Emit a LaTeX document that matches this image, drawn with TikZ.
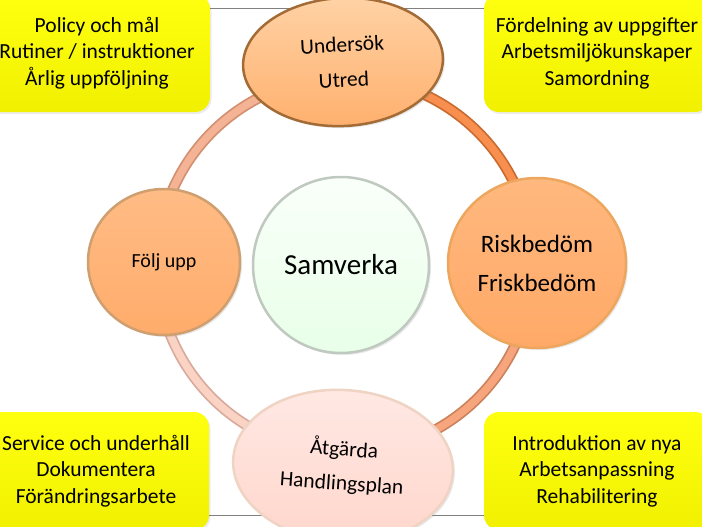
\documentclass[tikz,border=0pt]{standalone}
\usepackage{fontspec}
\setmainfont{Carlito}
\usetikzlibrary{shapes}
\usetikzlibrary{shadows}

\definecolor{boxtop}{HTML}{FFFF10}
\definecolor{boxbot}{HTML}{F0F000}
\definecolor{ringTL}{HTML}{F3B394}
\definecolor{ringTLe}{HTML}{D39070}
\definecolor{ringTR}{HTML}{F98F4E}
\definecolor{ringTRe}{HTML}{C96A30}
\definecolor{ringBR}{HTML}{F6A57D}
\definecolor{ringBRe}{HTML}{CC825C}
\definecolor{ringBL}{HTML}{FAD3C5}
\definecolor{ringBLe}{HTML}{D8AA9C}

\begin{document}
\begin{tikzpicture}[x=1pt,y=-1pt]
  \tikzset{box/.style={rounded corners=15pt, top color=boxtop, bottom color=boxbot,
      minimum width=226pt, minimum height=118pt, align=center, inner sep=0pt,
      font=\fontsize{21.5}{26.5}\selectfont,
      drop shadow={opacity=0.15, shadow xshift=1.5pt, shadow yshift=-2pt}}}
  \tikzset{blob/.style={ellipse, inner sep=0pt, align=center, line width=2.5pt,
      drop shadow={opacity=0.18, shadow xshift=2pt, shadow yshift=-2pt}}}
  \tikzset{ring/.style={line width=11pt}}
  \tikzset{ringin/.style={line width=7.5pt}}
  \tikzset{frame/.style={draw=black!50, line width=0.8pt}}

  \useasboundingbox (0,0) rectangle (702,527);

  \coordinate (c) at (345,265);

  % ring round the middle
  \draw[ring, ringTLe] ([shift={(180:188)}]c) arc[start angle=180, end angle=270, radius=188];
  \draw[ringin, ringTL] ([shift={(180:188)}]c) arc[start angle=180, end angle=270, radius=188];
  \draw[ring, ringTRe] ([shift={(270:188)}]c) arc[start angle=270, end angle=360, radius=188];
  \draw[ringin, ringTR] ([shift={(270:188)}]c) arc[start angle=270, end angle=360, radius=188];
  \draw[ring, ringBRe] ([shift={(0:188)}]c) arc[start angle=0, end angle=90, radius=188];
  \draw[ringin, ringBR] ([shift={(0:188)}]c) arc[start angle=0, end angle=90, radius=188];
  \draw[ring, ringBLe] ([shift={(90:188)}]c) arc[start angle=90, end angle=180, radius=188];
  \draw[ringin, ringBL] ([shift={(90:188)}]c) arc[start angle=90, end angle=180, radius=188];

  % corner boxes
  \node[box] (policy) at (97,53) {Policy och mål\\Rutiner / instruktioner\\Årlig uppföljning};
  \node[box] (fordel) at (597,53) {Fördelning av uppgifter\\Arbetsmiljökunskaper\\Samordning};
  \node[box] (service) at (96,471) {Service och underhåll\\Dokumentera\\Förändringsarbete};
  \node[box] (intro) at (597,471) {Introduktion av nya\\Arbetsanpassning\\Rehabilitering};

  \coordinate (topL) at (policy.east |- 0,8);
  \coordinate (topR) at (fordel.west |- 0,8);
  \coordinate (botL) at (service.east |- 0,515);
  \coordinate (botR) at (intro.west |- 0,515);
  \draw[frame] (topL) -- (topR);
  \draw[frame] (botL) -- (botR);

  % steps
  \node[blob, draw=brown!85!black, top color=orange!35!white, bottom color=orange!55!white!95!red,
        minimum width=200pt, minimum height=128pt, rotate=3,
        font=\fontsize{21.5}{35}\selectfont] (unders) at (343,62) {Undersök\\Utred};
  \node[blob, draw=orange!60!brown!70, top color=orange!48!white!95!red, bottom color=orange!56!white!92!red,
        minimum width=178pt, minimum height=170pt,
        font=\fontsize{25}{39}\selectfont] (risk) at (537,263) {Riskbedöm\\Friskbedöm};
  \node[blob, draw=brown!75, top color=orange!45!white!95!red, bottom color=orange!55!white!93!red,
        minimum width=152pt, minimum height=146pt,
        font=\fontsize{20}{24}\selectfont] (folj) at (164,262) {Följ upp};
  \node[blob, draw=red!15!brown!30, top color=red!7!white!96!orange, bottom color=red!13!white!92!orange,
        minimum width=220pt, minimum height=152pt, rotate=-4,
        font=\fontsize{21.5}{34}\selectfont] (atg) at (343,466) {Åtgärda\\Handlingsplan};
  \node[blob, draw=green!15!black!25, top color=green!2!white, bottom color=green!9!white,
        minimum width=176pt, minimum height=176pt,
        font=\fontsize{29}{34}\selectfont] (samv) at (341,265) {Samverka};
\end{tikzpicture}
\end{document}
